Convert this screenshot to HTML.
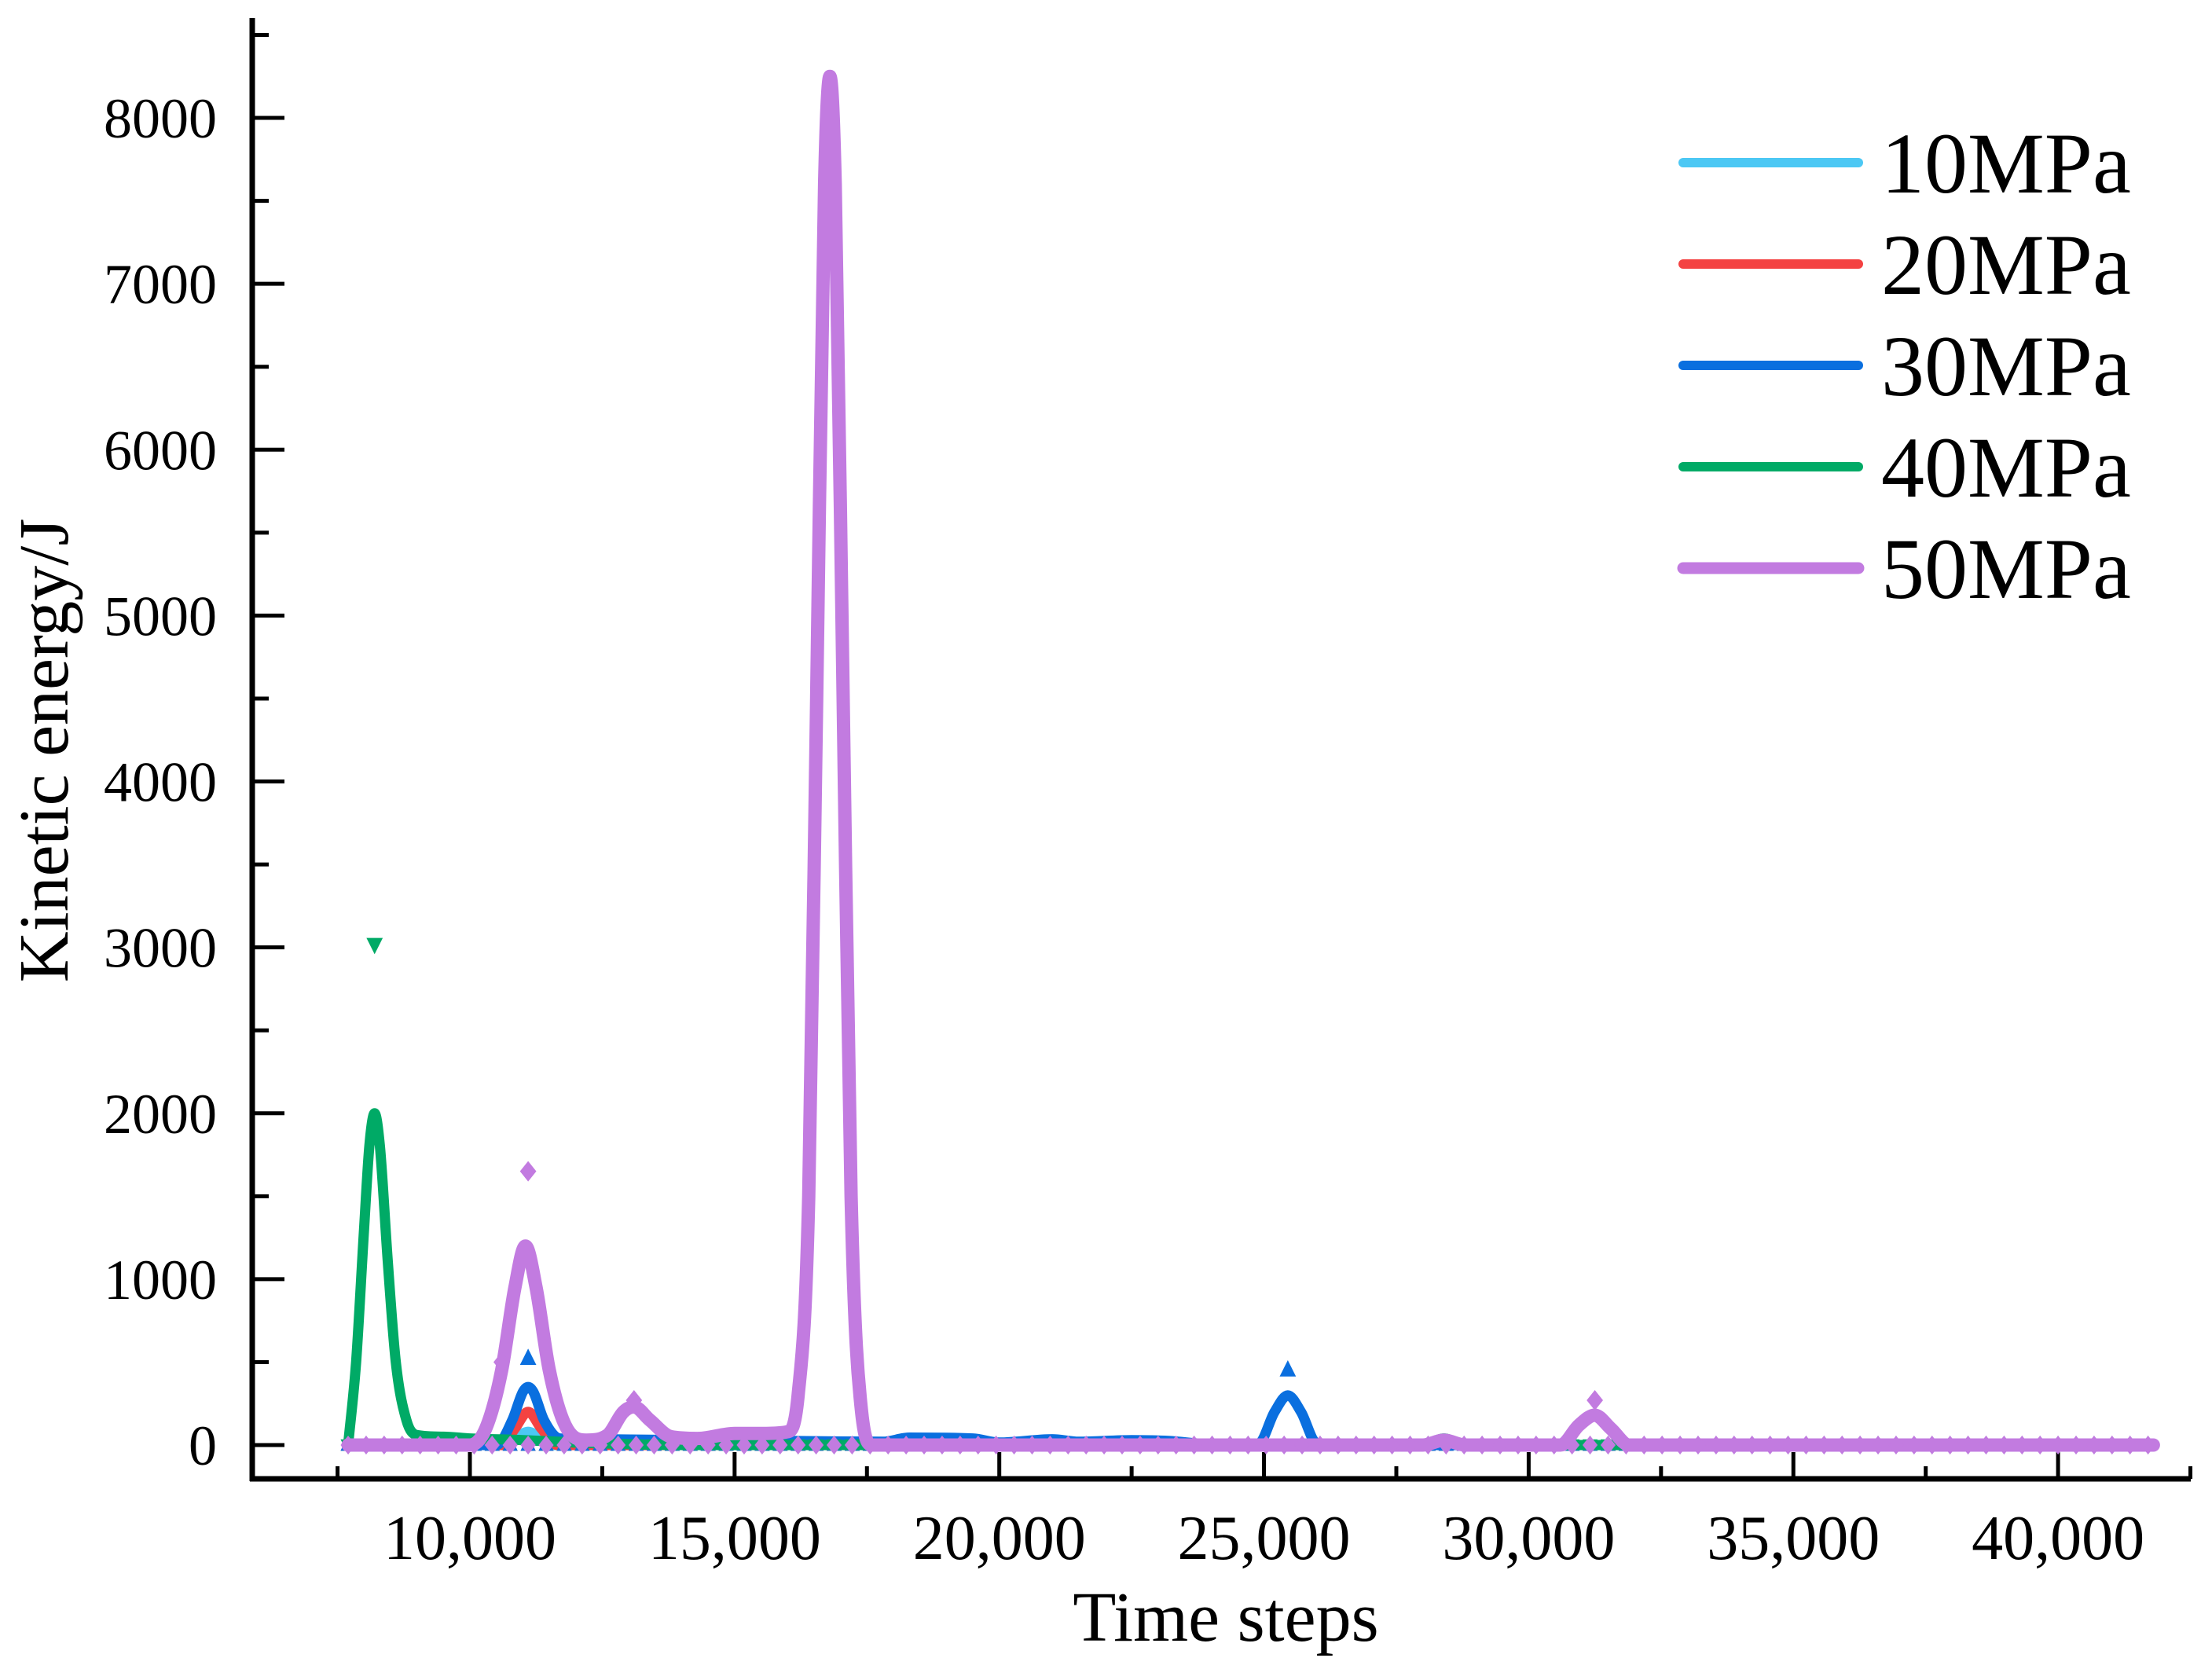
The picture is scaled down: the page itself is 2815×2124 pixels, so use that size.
<!DOCTYPE html>
<html><head><meta charset="utf-8"><style>
html,body{margin:0;padding:0;background:#fff}
svg{display:block}
text{font-family:"Liberation Serif",serif;fill:#000}
</style></head><body>
<svg id="chart" width="2815" height="2124" viewBox="0 0 2815 2124" xmlns="http://www.w3.org/2000/svg">
<g id="axes"></g>
<g id="series"></g>
<g id="legend"></g>
<text x="1560" y="2088" font-size="90" text-anchor="middle">Time steps</text>
<text transform="translate(86,955) rotate(-90)" font-size="90" text-anchor="middle">Kinetic energy/J</text>
</svg>
<script>
const xTicks=[10000,15000,20000,25000,30000,35000,40000];
const xTickLabels=["10,000","15,000","20,000","25,000","30,000","35,000","40,000"];
const yTicks=[0,1000,2000,3000,4000,5000,6000,7000,8000];
const seriesNames=["10MPa","20MPa","30MPa","40MPa","50MPa"];
const seriesColors=["#4cc8f4","#f44242","#0a6fdf","#00aa66","#c27be0"];
const s10=[[7700,0],[10600,0],[10900,50],[11100,80],[11300,50],[11600,0],[41800,0]];
const s20=[[7700,0],[10600,0],[10850,100],[11100,200],[11350,100],[11650,0],[41800,0]];
const s30=[[7700,0],[10500,0],[10800,150],[11000,320],[11100,350],[11200,320],[11400,150],[11700,40],[12500,35],[14000,30],[16000,25],[17800,20],[18300,45],[19500,40],[20000,15],[21000,35],[21500,20],[22500,30],[23200,25],[24000,5],[24900,10],[25200,200],[25450,300],[25700,200],[26000,10],[27000,0],[41800,0]];
const s40=[[7700,0],[7850,500],[8000,1300],[8100,1800],[8200,2000],[8300,1800],[8450,1100],[8600,500],[8800,150],[9000,60],[9500,50],[10000,40],[11000,30],[12000,15],[13000,5],[14000,0],[28000,0],[28400,40],[28800,0],[41800,0]];
const s50=[[7700,0],[10000,0],[10300,100],[10600,450],[10850,950],[11050,1200],[11250,950],[11500,450],[11800,120],[12200,30],[12600,60],[12900,200],[13100,230],[13400,150],[13800,50],[14300,40],[15000,70],[15600,70],[16000,80],[16200,300],[16400,1500],[16550,4500],[16700,7600],[16800,8250],[16900,7600],[17050,4500],[17200,1500],[17400,200],[17600,0],[28000,0],[28400,30],[28800,0],[30600,0],[30950,120],[31250,180],[31550,100],[31900,0],[41800,0]];
const seriesData=[s10,s20,s30,s40,s50];
const peakMarkers=[[11100,520,2,"up"],[25450,450,2,"up"],[8200,3020,3,"down"],[11100,1650,4,"diamond"],[31250,270,4,"diamond"],[10600,500,4,"diamond"],[13100,270,4,"diamond"]];
const NS="http://www.w3.org/2000/svg";
const X=t=>-75.7+t*0.06737;
const Y=v=>1839-v*0.21112;
function mk(tag,attrs,parent){const e=document.createElementNS(NS,tag);for(const k in attrs)e.setAttribute(k,attrs[k]);parent.appendChild(e);return e;}
function monoPath(pts){
 const n=pts.length,xs=pts.map(p=>p[0]),ys=pts.map(p=>p[1]);
 const d=[],m=new Array(n);
 for(let i=0;i<n-1;i++)d.push((ys[i+1]-ys[i])/(xs[i+1]-xs[i]));
 m[0]=d[0];m[n-1]=d[n-2];
 for(let i=1;i<n-1;i++){m[i]=(d[i-1]*d[i]<=0)?0:(d[i-1]+d[i])/2;}
 for(let i=0;i<n-1;i++){if(d[i]===0){m[i]=0;m[i+1]=0;continue;}const a=m[i]/d[i],b=m[i+1]/d[i],s=a*a+b*b;if(s>9){const t=3/Math.sqrt(s);m[i]=t*a*d[i];m[i+1]=t*b*d[i];}}
 let p='M'+X(xs[0]).toFixed(1)+','+Y(ys[0]).toFixed(1);
 for(let i=0;i<n-1;i++){const h=(xs[i+1]-xs[i])/3;
  p+=' C'+X(xs[i]+h).toFixed(1)+','+Y(ys[i]+m[i]*h).toFixed(1)+' '+X(xs[i+1]-h).toFixed(1)+','+Y(ys[i+1]-m[i+1]*h).toFixed(1)+' '+X(xs[i+1]).toFixed(1)+','+Y(ys[i+1]).toFixed(1);}
 return p;
}
const axes=document.getElementById('axes');
let a=mk('line',{x1:321,y1:23,x2:321,y2:1885,stroke:'#000','stroke-width':7},axes);


a=mk('line',{x1:318,y1:1882,x2:2788,y2:1882,stroke:'#000','stroke-width':7},axes);


yTicks.forEach(v=>{
 const t=mk('line',{x1:321,x2:362,y1:Y(v),y2:Y(v),stroke:'#000','stroke-width':5},axes);
 
 
 const m=mk('line',{x1:321,x2:342,y1:Y(v+500),y2:Y(v+500),stroke:'#000','stroke-width':5},axes);
 
 
 const l=mk('text',{x:276,y:Y(v)+25,'font-size':72,'text-anchor':'end'},axes);
 l.textContent=v;
 
 
});
xTicks.forEach((v,i)=>{
 const t=mk('line',{x1:X(v),x2:X(v),y1:1882,y2:1848,stroke:'#000','stroke-width':5},axes);
 
 
 const m=mk('line',{x1:X(v-2500),x2:X(v-2500),y1:1882,y2:1866,stroke:'#000','stroke-width':5},axes);
 
 
 const l=mk('text',{x:X(v),y:1984,'font-size':80,'text-anchor':'middle'},axes);
 l.textContent=xTickLabels[i];
 
 
});
const m2=mk('line',{x1:X(42500),x2:X(42500),y1:1882,y2:1866,stroke:'#000','stroke-width':5},axes);


const sg=document.getElementById('series');
function marker(g,x,y,type,color,size){
 let p;
 if(type==='up')p=`M${x},${y-size} L${x+size*0.8},${y+size*0.6} L${x-size*0.8},${y+size*0.6}Z`;
 else if(type==='down')p=`M${x},${y+size} L${x+size*0.8},${y-size*0.6} L${x-size*0.8},${y-size*0.6}Z`;
 else p=`M${x},${y-size} L${x+size*0.8},${y} L${x},${y+size} L${x-size*0.8},${y}Z`;
 const e=mk('path',{d:p,fill:color},g);
 
 
}
const mtypes=["up","up","up","down","diamond"];
seriesData.forEach((d,i)=>{
 const g=mk('g',{},sg);
 
 
 const p=mk('path',{d:monoPath(d),fill:'none',stroke:seriesColors[i],'stroke-width':i===4?17:13,'stroke-linejoin':'round','stroke-linecap':'round'},g);
 
 
 for(let t=7700;t<=41800;t+=340){marker(g,X(t),Y(0),mtypes[i],seriesColors[i],12);}
});
peakMarkers.forEach(m=>{marker(sg,X(m[0]),Y(m[1]),m[3],seriesColors[m[2]],13);});
const lg=document.getElementById('legend');
seriesNames.forEach((n,i)=>{
 const y=207+i*129;
 const l=mk('line',{x1:2142,x2:2365,y1:y,y2:y,stroke:seriesColors[i],'stroke-width':i===4?15:12,'stroke-linecap':'round'},lg);
 
 
 const t=mk('text',{x:2394,y:y+38,'font-size':110},lg);
 t.textContent=n;
 
 
});
</script>
</body></html>
